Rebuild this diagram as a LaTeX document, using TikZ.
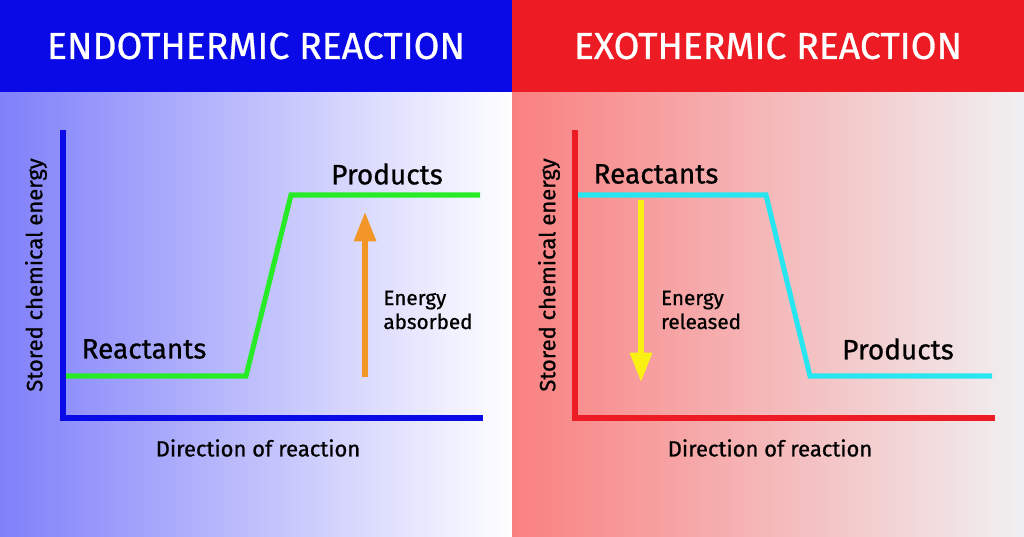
\documentclass[tikz,border=0pt]{standalone}
\usepackage{fontspec}
\setmainfont{Fira Sans}
\newfontfamily\medf{Fira Sans}[FakeBold=0.8]
\usetikzlibrary{arrows.meta}
\definecolor{hblue}{RGB}{10,10,230}
\definecolor{hred}{RGB}{237,28,36}
\definecolor{lblue}{RGB}{128,128,250}
\definecolor{lred}{RGB}{250,128,128}
\definecolor{rgray}{RGB}{240,240,242}
\definecolor{gline}{RGB}{40,235,40}
\definecolor{cline}{RGB}{40,230,240}
\definecolor{orng}{RGB}{242,150,40}
\definecolor{yel}{RGB}{250,240,20}
\tikzset{ax/.style={line width=3.8pt},
 big/.style={font=\medf\fontsize{21}{24}\selectfont},
 sm/.style={font=\medf\fontsize{15.5}{18}\selectfont, align=left},
 yl/.style={font=\medf\fontsize{16.5}{18}\selectfont,rotate=90},
 dl/.style={font=\medf\fontsize{16.5}{18}\selectfont},
 hd/.style={text=white,font=\medf\fontsize{28}{32}\selectfont}}
\begin{document}
\begin{tikzpicture}[x=0.75pt,y=-0.75pt]
\useasboundingbox (0,0) rectangle (1024,536);
\shade[left color=lblue,right color=white] (0,92) rectangle (512,536);
\shade[left color=lred,right color=rgray] (512,92) rectangle (1024,536);
\fill[hblue] (0,0) rectangle (512,92);
\fill[hred] (512,0) rectangle (1024,92);
\node[hd] (h1) at (256,46) {ENDOTHERMIC REACTION};
\node[hd] (h2) at (768,46) {EXOTHERMIC REACTION};
% left
\draw[ax,hblue,line cap=rect] (63,133) -- (63,418) -- (480,418);
\draw[line width=3.8pt,gline] (66,376) -- (246,376) -- (291,195) -- (480,195);
\coordinate (oa) at (365,377); \coordinate (ob) at (365,212);
\draw[line width=4pt,orng,-{Triangle[length=22pt,width=16pt]}] (oa) -- (ob);
\node[big] (p1) at (387,174) {Products};
\node[big] (r1) at (144,349) {Reactants};
\node[sm] (e1) at (428,310) {Energy\\absorbed};
\node[yl] (y1) at (36,275) {Stored chemical energy};
\node[dl] (d1) at (258,448) {Direction of reaction};
% right
\draw[ax,hred,line cap=rect] (575,133) -- (575,418) -- (992,418);
\draw[line width=3.8pt,cline] (578,195) -- (766,195) -- (810,376) -- (992,376);
\coordinate (ya) at (641,200); \coordinate (yb) at (641,382);
\draw[line width=4pt,yel,-{Triangle[length=22pt,width=16pt]}] (ya) -- (yb);
\node[big] (r2) at (656,174) {Reactants};
\node[big] (p2) at (898,349) {Products};
\node[sm] (e2) at (701,310) {Energy\\released};
\node[yl] (y2) at (549,275) {Stored chemical energy};
\node[dl] (d2) at (770,448) {Direction of reaction};
\end{tikzpicture}
\end{document}
